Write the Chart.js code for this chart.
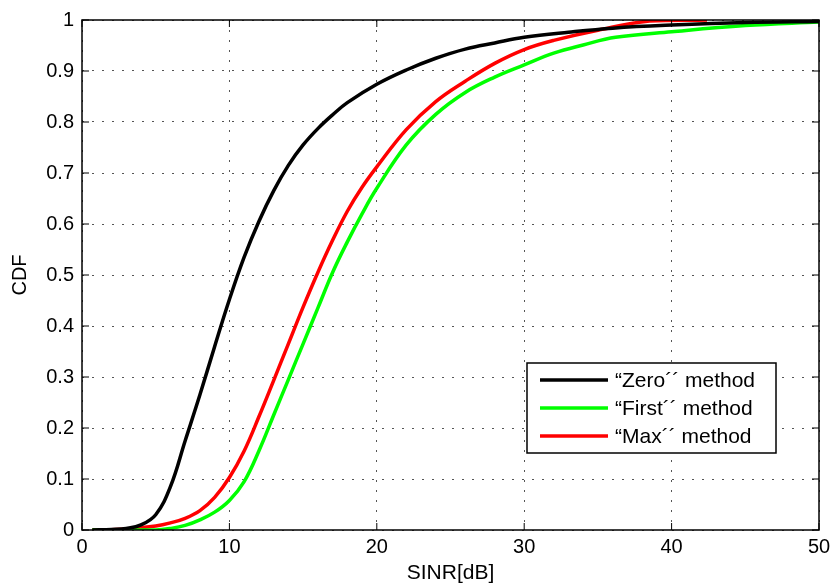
<!DOCTYPE html>
<html>
<head>
<meta charset="utf-8">
<script src="https://cdn.jsdelivr.net/npm/chart.js@4/dist/chart.umd.min.js"></script>
<style>
  html, body { margin: 0; padding: 0; background: #fff; }
  #wrap { width: 837px; height: 586px; }
</style>
</head>
<body>
<div id="wrap"><canvas id="cdf" width="837" height="586"></canvas></div>
<script>
// data (SINR in dB -> CDF)
const zeroX = [0.7, 2, 3, 4, 5, 6, 7, 8, 9, 10, 11, 12, 13, 14, 15, 16, 17, 18, 20, 22, 24, 26, 28, 30, 33, 36, 40, 45, 50];
const zeroY = [0, 0.001, 0.003, 0.01, 0.03, 0.085, 0.175, 0.265, 0.36, 0.452, 0.535, 0.605, 0.665, 0.715, 0.755, 0.787, 0.814, 0.838, 0.874, 0.902, 0.925, 0.943, 0.955, 0.966, 0.976, 0.984, 0.99, 0.995, 0.997];

const firstX = [0.7, 5, 6, 7, 8, 9, 10, 11, 12, 13, 14, 15, 16, 17, 18, 19, 20, 22, 24, 26, 28, 30, 32, 34, 36.2, 40, 45, 50];
const firstY = [0, 0, 0.003, 0.009, 0.02, 0.035, 0.058, 0.095, 0.155, 0.225, 0.295, 0.365, 0.435, 0.505, 0.565, 0.62, 0.67, 0.755, 0.815, 0.858, 0.888, 0.912, 0.935, 0.951, 0.966, 0.977, 0.989, 0.996];

const maxX = [0.7, 3, 5, 6, 7, 8, 9, 10, 11, 12, 13, 14, 15, 16, 17, 18, 19, 20, 22, 24, 26, 28, 30, 32, 35, 38.5, 42.4];
const maxY = [0, 0.002, 0.008, 0.014, 0.023, 0.038, 0.064, 0.103, 0.155, 0.222, 0.293, 0.365, 0.437, 0.505, 0.568, 0.625, 0.672, 0.712, 0.785, 0.84, 0.88, 0.915, 0.942, 0.96, 0.98, 0.998, 1];

const seriesLabels = ["\u201CZero\u00B4\u00B4 method", "\u201CFirst\u00B4\u00B4 method", "\u201CMax\u00B4\u00B4 method"];
const seriesColors = ["#000000", "#00ff00", "#ff0000"];
const xTicks = [0, 10, 20, 30, 40, 50];
const yTicks = [0, 0.1, 0.2, 0.3, 0.4, 0.5, 0.6, 0.7, 0.8, 0.9, 1];

function toPoints(xs, ys) {
  return xs.map((x, i) => ({ x: x, y: ys[i] }));
}

const FONT = "'Liberation Sans', Arial, Helvetica, sans-serif";

// matlab style box, inner ticks and legend
const boxPlugin = {
  id: "boxPlugin",
  afterDraw(chart) {
    const ctx = chart.ctx;
    const a = chart.chartArea;
    const xs = chart.scales.x, ys = chart.scales.y;
    ctx.save();
    ctx.strokeStyle = "#000";
    ctx.lineWidth = 1.5;
    ctx.strokeRect(a.left, a.top, a.right - a.left, a.bottom - a.top);
    ctx.lineWidth = 1;
    ctx.beginPath();
    xTicks.forEach(t => {
      const px = xs.getPixelForValue(t);
      ctx.moveTo(px, a.bottom); ctx.lineTo(px, a.bottom - 7);
      ctx.moveTo(px, a.top); ctx.lineTo(px, a.top + 7);
    });
    yTicks.forEach(t => {
      const py = ys.getPixelForValue(t);
      ctx.moveTo(a.left, py); ctx.lineTo(a.left + 7, py);
      ctx.moveTo(a.right, py); ctx.lineTo(a.right - 7, py);
    });
    ctx.stroke();

    // legend box
    const lx = 527, ly = 363, lw = 249, lh = 90;
    ctx.fillStyle = "#fff";
    ctx.fillRect(lx, ly, lw, lh);
    ctx.lineWidth = 1.5;
    ctx.strokeRect(lx, ly, lw, lh);
    ctx.font = "21px " + FONT;
    ctx.textBaseline = "middle";
    ctx.textAlign = "left";
    chart.data.datasets.forEach((ds, i) => {
      const y = ly + 17 + i * 28;
      ctx.strokeStyle = ds.borderColor;
      ctx.lineWidth = 3.5;
      ctx.beginPath();
      ctx.moveTo(lx + 13, y);
      ctx.lineTo(lx + 81, y);
      ctx.stroke();
      ctx.fillStyle = "#000";
      ctx.fillText(ds.label, lx + 88, y + 1);
    });
    ctx.restore();
  }
};

const gridOpts = {
  color: "#555",
  lineWidth: 1,
  drawTicks: false
};

const ctx = document.getElementById("cdf").getContext("2d");
const chart = new Chart(ctx, {
  type: "line",
  data: {
    datasets: [
      { label: seriesLabels[0], data: toPoints(zeroX, zeroY), borderColor: seriesColors[0] },
      { label: seriesLabels[1], data: toPoints(firstX, firstY), borderColor: seriesColors[1] },
      { label: seriesLabels[2], data: toPoints(maxX, maxY), borderColor: seriesColors[2] }
    ].map(d => Object.assign(d, {
      borderWidth: 3.5,
      pointRadius: 0,
      fill: false,
      tension: 0.4
    }))
  },
  options: {
    responsive: false,
    animation: false,
    layout: { padding: { top: 15, right: 18, left: 0, bottom: 0 } },
    plugins: {
      legend: { display: false },
      tooltip: { enabled: false }
    },
    scales: {
      x: {
        type: "linear",
        min: 0,
        max: 50,
        afterBuildTicks: s => { s.ticks = xTicks.map(v => ({ value: v })); },
        afterFit: s => { s.height = 56; },
        grid: gridOpts,
        border: { display: false, dash: [2, 8] },
        ticks: {
          color: "#000",
          font: { family: FONT, size: 20 },
          padding: 5,
          maxRotation: 0
        },
        title: {
          display: true,
          text: "SINR[dB]",
          color: "#000",
          font: { family: FONT, size: 21 },
          padding: { top: 0, bottom: 0 }
        }
      },
      y: {
        type: "linear",
        min: 0,
        max: 1,
        afterBuildTicks: s => { s.ticks = yTicks.map(v => ({ value: v })); },
        afterFit: s => { s.width = 82; },
        grid: gridOpts,
        border: { display: false, dash: [2, 8] },
        ticks: {
          color: "#000",
          font: { family: FONT, size: 20 },
          padding: 8,
          callback: v => String(Math.round(v * 10) / 10)
        },
        title: {
          display: true,
          text: "CDF",
          color: "#000",
          font: { family: FONT, size: 20 },
          padding: { top: 8, bottom: 4 }
        }
      }
    }
  },
  plugins: [boxPlugin]
});
</script>
</body>
</html>
